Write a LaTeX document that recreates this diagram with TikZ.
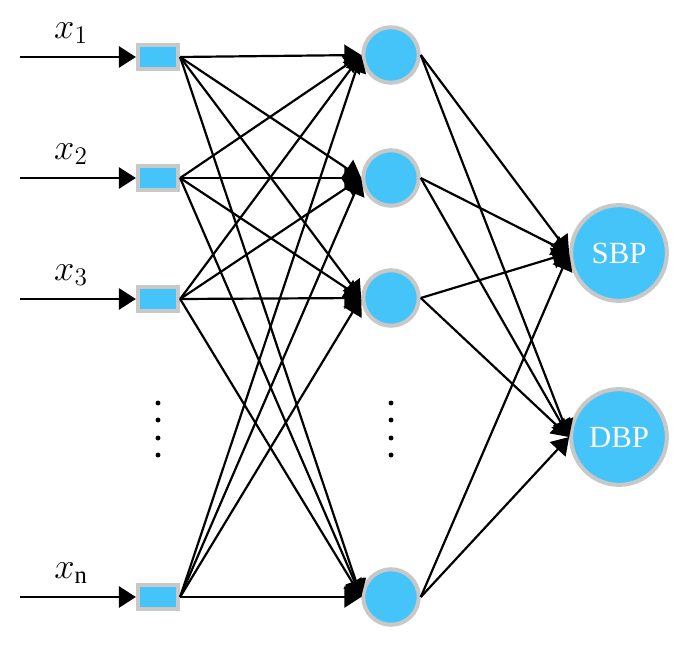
\documentclass[tikz,border=0pt]{standalone}
\usepackage{fontspec}
\setmainfont{Liberation Serif}
\usetikzlibrary{arrows.meta}
\definecolor{nodeblue}{RGB}{69,196,250}
\definecolor{rimgray}{RGB}{200,200,200}
\tikzset{
    inbox/.style={draw=rimgray, line width=2.5pt, fill=nodeblue, minimum width=22.7pt, minimum height=13.6pt, inner sep=0pt},
    hidden/.style={circle, draw=rimgray, line width=2.3pt, fill=nodeblue, minimum size=31.6pt, inner sep=0pt},
    output/.style={circle, draw=rimgray, line width=2.3pt, fill=nodeblue, minimum size=54.5pt, inner sep=0pt, text=white, font=\fontsize{17.5}{19}\selectfont},
    inlabel/.style={font=\fontsize{20}{23}\selectfont, inner sep=0pt},
    edge/.style={line width=1.25pt, -{Triangle[length=9.6pt, width=12pt]}}
}
\begin{document}
\begin{tikzpicture}[x=0.02cm, y=-0.02cm]
            \useasboundingbox (0,0) rectangle (689,648);

            % input layer
            \foreach \i/\y/\lab in {1/57/1, 2/178/2, 3/299/3, 4/597/\mathrm{n}} {
                \node[inbox] (in\i) at (158,\y) {};
                \coordinate (src\i) at (20,\y);
                \draw[edge] (src\i) -- (in\i.west);
                \node[inlabel] (lab\i) at (71,\y-24) {$x_{\lab}$};
            }

            % hidden layer
            \foreach \j/\y in {1/55, 2/178, 3/298, 4/597}
                \node[hidden] (hid\j) at (391,\y) {};

            % output layer
            \node[output] (sbp) at (619,253) {SBP};
            \node[output] (dbp) at (619,437) {DBP};

            \foreach \i in {1,2,3,4} {
                \foreach \j in {1,2,3,4} {
                    \draw[edge] (in\i.east) -- (hid\j.west);
                }
            }
            \foreach \j in {1,2,3,4} {
                \foreach \o in {sbp,dbp} {
                    \draw[edge] (hid\j.east) -- (\o.west);
                }
            }

            % dots
            \foreach \x in {158,391} {
                \foreach \y in {403,420,438,455} \fill (\x,\y) circle[radius=1.4pt];
            }
        \end{tikzpicture}
\end{document}
